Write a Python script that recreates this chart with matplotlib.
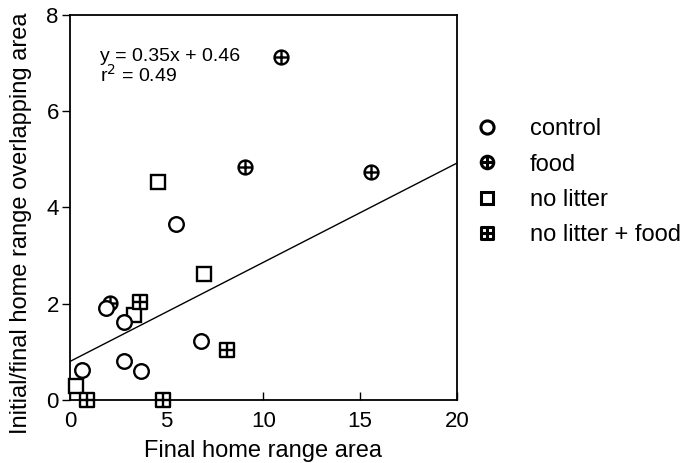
import numpy as np
import matplotlib
matplotlib.use('Agg')
import matplotlib.pyplot as plt
from matplotlib.path import Path

plt.rcParams['font.family'] = ['Liberation Sans', 'DejaVu Sans']

# values
control_x = [0.65, 1.86, 2.81, 2.81, 3.7, 5.51, 6.8]
control_y = [0.62, 1.91, 1.63, 0.82, 0.60, 3.65, 1.23]
food_x = [2.05, 9.04, 10.9, 15.54]
food_y = [2.02, 4.83, 7.12, 4.73]
nolitter_x = [0.31, 3.31, 4.58, 6.93]
nolitter_y = [0.30, 1.77, 4.53, 2.61]
nlfood_x = [0.9, 3.62, 4.79, 8.1]
nlfood_y = [0.0, 2.04, 0.0, 1.04]

# drawn regression line (as it appears on the chart)
line_x = [0, 20]
line_intercept = 0.80
line_slope = 0.206

# markers: circle with cross, square with cross
cross = Path([[-1, 0], [1, 0], [0, -1], [0, 1]],
             [Path.MOVETO, Path.LINETO, Path.MOVETO, Path.LINETO])
circ_cross = Path.make_compound_path(Path.unit_circle(), cross)
square = Path([[-1, -1], [1, -1], [1, 1], [-1, 1], [-1, -1]],
              [Path.MOVETO, Path.LINETO, Path.LINETO, Path.LINETO, Path.CLOSEPOLY])
sq_cross = Path.make_compound_path(square, cross)

fig = plt.figure(figsize=(6.85, 4.63), dpi=100)
ax = fig.add_axes([0.102, 0.136, 0.565, 0.832])

lx = np.array(line_x)
ax.plot(lx, line_intercept + line_slope * lx, color='black', lw=1.0, zorder=2)

common = dict(linestyle='none', mec='black', mfc='white', mew=1.7, clip_on=False)
ax.plot(nolitter_x, nolitter_y, marker='s', ms=10, label='no litter', zorder=3, **common)
ax.plot(food_x, food_y, marker=circ_cross, ms=10, label='food', zorder=3, **common)
ax.plot(nlfood_x, nlfood_y, marker=sq_cross, ms=9.5, label='no litter + food', zorder=4, **common)
ax.plot(control_x, control_y, marker='o', ms=10.5, label='control', zorder=5, **common)

ax.text(0.079, 0.915, 'y = 0.35x + 0.46\nr$^2$ = 0.49', transform=ax.transAxes,
        fontsize=14, va='top', ha='left', linespacing=0.95)

ax.set_xlim(0, 20)
ax.set_ylim(0, 8)
ax.set_xticks([0, 5, 10, 15, 20])
ax.set_yticks([0, 2, 4, 6, 8])
ax.tick_params(axis='x', direction='in', length=6, width=1, labelsize=16, pad=8)
ax.tick_params(axis='y', direction='out', length=6, width=1, labelsize=16, pad=2)
for s in ax.spines.values():
    s.set_linewidth(1.3)
ax.set_xlabel('Final home range area', fontsize=17, labelpad=6)
ax.set_ylabel('Initial/final home range overlapping area', fontsize=17)
ax.yaxis.set_label_coords(-0.098, 0.46)

h, l = ax.get_legend_handles_labels()
order = [3, 1, 0, 2]
leg = fig.legend([h[i] for i in order], [l[i] for i in order], loc='upper left',
                 bbox_to_anchor=(0.6455, 0.79), frameon=False, fontsize=17,
                 labelspacing=0.56, markerscale=0.9, handletextpad=0.8)
for lh in leg.legend_handles:
    lh.set_markeredgewidth(2.2)

fig.savefig('out.png', dpi=100)
